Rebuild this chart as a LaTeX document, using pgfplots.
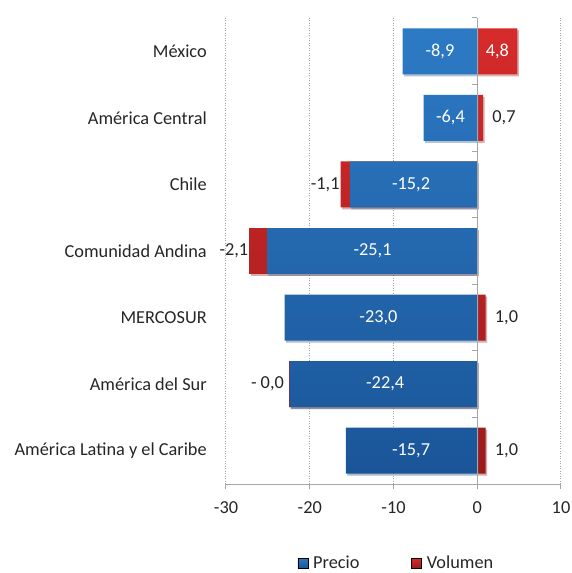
\documentclass[border=0pt]{standalone}
\usepackage{pgfplots}
\pgfplotsset{compat=1.18}
\usepackage{fontspec}
\setmainfont{Carlito}
\usetikzlibrary{shadows}
\definecolor{bluetop}{HTML}{2D7AC4}
\definecolor{bluebot}{HTML}{1A5598}
\definecolor{redtop}{HTML}{D62B2B}
\definecolor{redbot}{HTML}{9C1A1A}
\definecolor{axgray}{HTML}{A6A6A6}
\definecolor{txt}{HTML}{262626}
\begin{document}
\fontsize{18.3}{22}\selectfont
\begin{tikzpicture}[font=\fontsize{18.3}{22}\selectfont, text=txt]
\begin{axis}[
  scale only axis, width=335pt, height=466pt,
  xmin=-30, xmax=10, ymin=-0.5, ymax=6.5,
  axis x line*=bottom, axis y line*=left,
  y axis line style={draw=none},
  x axis line style={axgray, line width=1pt},
  xtick={-30,-20,-10,0,10},
  xticklabels={-30,-20,-10,0,10},
  tick align=outside, major tick length=5pt,
  xtick style={axgray, line width=1pt},
  ytick={0,1,2,3,4,5,6},
  yticklabels={América Latina y el Caribe, América del Sur, MERCOSUR, Comunidad Andina, Chile, América Central, México},
  ytick style={draw=none},
  yticklabel style={xshift=-8pt},
  xticklabel style={yshift=-6pt},
  xmajorgrids, grid style={axgray, line width=1pt, dash pattern=on 1pt off 1.5pt},
  legend style={draw=none, fill=none, legend columns=2, at={(0.509,-0.17)}, anchor=center,
    /tikz/every odd column/.append style={column sep=3pt},
    /tikz/every even column/.append style={column sep=50pt}},
  legend cell align=left,
  clip=false,
]
\addlegendimage{legend image code/.code={\shade[top color=bluetop, bottom color=bluebot] (0pt,-5pt) rectangle (10pt,5pt);}}
\addlegendimage{legend image code/.code={\shade[top color=redtop, bottom color=redbot] (0pt,-5pt) rectangle (10pt,5pt);}}
\legend{Precio, Volumen}
% Volumen (red): drawn as cumulative extent so negative part sits beyond the blue bar
\addplot[xbar, bar width=0.69, bar shift=0pt, draw=none, top color=redtop, bottom color=redbot,
  drop shadow={opacity=0.25, shadow xshift=1.5pt, shadow yshift=-2pt}]
  coordinates {(4.8,6) (0.7,5) (-16.3,4) (-27.2,3) (1.0,2) (-22.47,1) (1.0,0)};
% Precio (blue)
\addplot[xbar, bar width=0.69, bar shift=0pt, draw=none, top color=bluetop, bottom color=bluebot,
  drop shadow={opacity=0.25, shadow xshift=1.5pt, shadow yshift=-2pt}]
  coordinates {(-8.9,6) (-6.4,5) (-15.2,4) (-25.1,3) (-23.0,2) (-22.4,1) (-15.7,0)};
% zero axis line
\draw[axgray, line width=1pt] (axis cs:0,-0.5) -- (axis cs:0,6.5);
\pgfplotsinvokeforeach{0.5,1.5,2.5,3.5,4.5,5.5,6.5}{
  \draw[axgray, line width=1pt] (axis cs:0,#1) -- ([xshift=-5pt]axis cs:0,#1);
}
% Precio labels (centered in bars)
\addplot[draw=none, mark=none, nodes near coords, point meta=explicit symbolic,
  every node near coord/.append style={anchor=center, text=white}]
  coordinates {(-4.45,6)[-8,9] (-3.2,5)[-6,4] (-7.9,4)[-15,2] (-12.5,3)[-25,1] (-11.8,2)[-23,0] (-11.0,1)[-22,4] (-7.9,0)[-15,7]};
% Volumen labels
\addplot[draw=none, mark=none, nodes near coords, point meta=explicit symbolic,
  every node near coord/.append style={anchor=center, text=white}]
  coordinates {(2.4,6)[4,8]};
\addplot[draw=none, mark=none, nodes near coords, point meta=explicit symbolic,
  every node near coord/.append style={anchor=west, xshift=3pt}]
  coordinates {(0.7,5)[0,7] (1.0,2)[1,0] (1.0,0)[1,0]};
\addplot[draw=none, mark=none, nodes near coords, point meta=explicit symbolic,
  every node near coord/.append style={anchor=east, inner sep=1pt}]
  coordinates {(-16.3,4)[-1,1] (-27.2,3)[-2,1]};
\addplot[draw=none, mark=none, nodes near coords, point meta=explicit symbolic,
  every node near coord/.append style={anchor=east, xshift=-4pt, inner sep=1pt}]
  coordinates {(-22.47,1)[- 0,0]};
\end{axis}
\pgfresetboundingbox
\path[use as bounding box] ([xshift=-226pt,yshift=-89pt]current axis.south west) rectangle ([xshift=11pt,yshift=18pt]current axis.north east);
\end{tikzpicture}
\end{document}
